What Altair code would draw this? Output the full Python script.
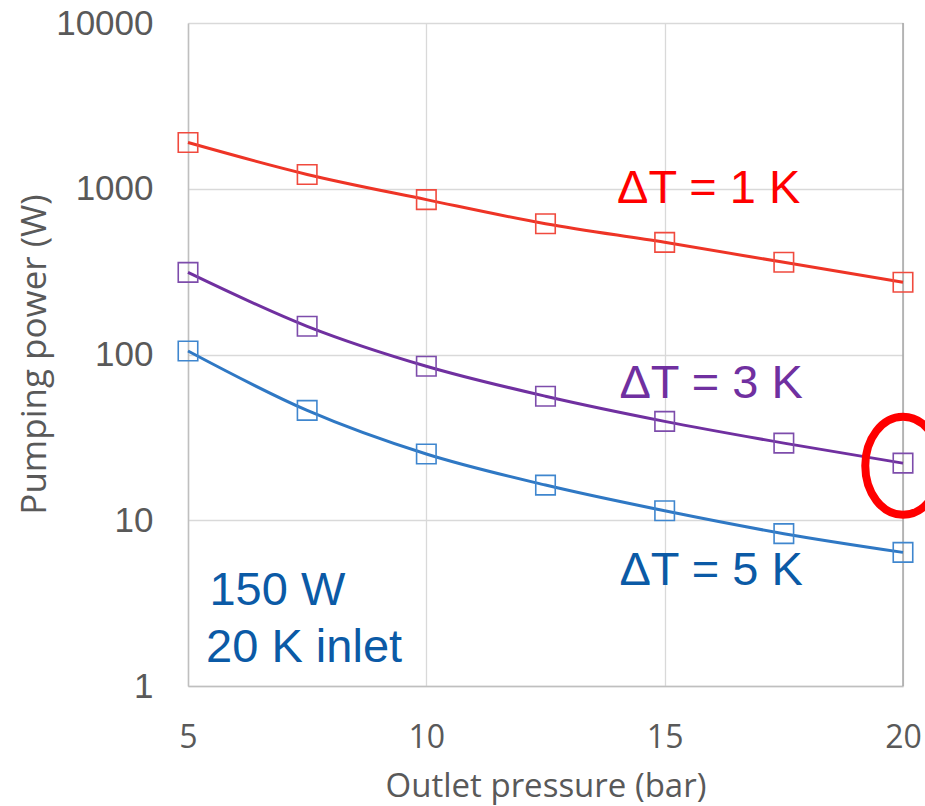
import altair as alt
import pandas as pd

# ---- data ----
pressure = [5, 7.5, 10, 12.5, 15, 17.5, 20]
power_dT1 = [1900, 1220, 860, 615, 475, 360, 273]
power_dT3 = [313, 148, 85, 56, 39.5, 29.2, 22.1]
power_dT5 = [105, 46, 25.1, 16.3, 11.4, 8.3, 6.4]
series_names = ["ΔT = 1 K", "ΔT = 3 K", "ΔT = 5 K"]

x_ticks = [5, 10, 15, 20]
y_ticks = [1, 10, 100, 1000, 10000]

# annotation texts and their anchor positions (data units)
label_text = ["ΔT = 1 K", "ΔT = 3 K", "ΔT = 5 K", "150 W", "20 K inlet"]
label_x = [14.0, 14.05, 14.05, 5.45, 5.38]
label_y = [820, 54.7, 4.07, 3.08, 1.40]
label_group = ["r", "p", "b", "b", "b"]

circle_x = [20]
circle_y = [21.3]

rows = []
for name, vals in zip(series_names, [power_dT1, power_dT3, power_dT5]):
    for p, v in zip(pressure, vals):
        rows.append({"pressure": p, "power": v, "series": name})
df = pd.DataFrame(rows)

ann = pd.DataFrame({"text": label_text, "x": label_x, "y": label_y, "g": label_group})
circ = pd.DataFrame({"x": circle_x, "y": circle_y})
edge = pd.DataFrame({"x": [20]})

xscale = alt.Scale(domain=[5, 20], nice=False, zero=False)
yscale = alt.Scale(type="log", domain=[1, 10000], nice=False)

line_colors = alt.Scale(domain=series_names, range=["#EE3426", "#7030A0", "#2F78C4"])
point_colors = alt.Scale(domain=series_names, range=["#F04A3E", "#7D4CAB", "#3F86CE"])

xaxis = alt.Axis(
    values=x_ticks, title="Outlet pressure (bar)", grid=True, gridColor="#D9D9D9",
    gridWidth=1.3, domainColor="#BFBFBF", domainWidth=1.5, ticks=False, tickSize=0,
    labelFont="Open Sans", labelFontSize=32, labelColor="#595959", labelPadding=61,
    labelBaseline="alphabetic", titleFont="Open Sans", titleFontSize=33,
    titleFontWeight="normal", titleColor="#595959", titleBaseline="alphabetic",
    titleY=110, labelFlush=False,
)
yaxis = alt.Axis(
    values=y_ticks, format="d", title="Pumping power (W)", grid=True,
    gridColor="#D9D9D9", gridWidth=1.3, domainColor="#BFBFBF", domainWidth=1.5,
    ticks=False, tickSize=0, labelFont="Liberation Sans", labelFontSize=35,
    labelColor="#595959", labelPadding=35, labelBaseline="middle",
    titleFont="Open Sans", titleFontSize=35, titleFontWeight="normal",
    titleColor="#595959", titleX=-143, titleY=331, titleBaseline="alphabetic",
    labelFlush=False,
)

base = alt.Chart(df)

lines = base.mark_line(strokeWidth=3, interpolate="monotone").encode(
    x=alt.X("pressure:Q", scale=xscale, axis=xaxis),
    y=alt.Y("power:Q", scale=yscale, axis=yaxis),
    color=alt.Color("series:N", scale=line_colors, legend=None),
    detail="series:N",
)

points = base.mark_point(shape="square", size=380, filled=False, strokeWidth=1.6, opacity=1).encode(
    x=alt.X("pressure:Q", scale=xscale),
    y=alt.Y("power:Q", scale=yscale),
    color=alt.Color("series:N", scale=point_colors, legend=None),
)

right_edge = alt.Chart(edge).mark_rule(color="#A6A6A6", strokeWidth=1.5).encode(
    x=alt.X("x:Q", scale=xscale)
)

texts = alt.Chart(ann).mark_text(
    font="Liberation Sans", fontSize=47, align="left", baseline="alphabetic"
).encode(
    x=alt.X("x:Q", scale=xscale),
    y=alt.Y("y:Q", scale=yscale),
    text="text:N",
    color=alt.Color("g:N", scale=alt.Scale(domain=["r", "p", "b"], range=["#FF0000", "#7030A0", "#0B5AA6"]), legend=None),
)

ellipse_path = "M -0.77 0 A 0.77 1 0 1 0 0.77 0 A 0.77 1 0 1 0 -0.77 0 Z"
ellipse = alt.Chart(circ).mark_point(
    shape=ellipse_path, size=9604, filled=False, strokeWidth=8, color="#FF0000", opacity=1
).encode(
    x=alt.X("x:Q", scale=xscale),
    y=alt.Y("y:Q", scale=yscale),
)

chart = alt.layer(right_edge, lines, points, texts, ellipse).resolve_scale(
    color="independent"
).properties(
    width=715, height=663,
    autosize=alt.AutoSizeParams(type="none"),
    padding={"left": 188, "top": 23, "right": 22, "bottom": 120},
    background="white",
).configure_view(stroke=None)

chart.save("out.html", embed_options={"renderer": "svg", "actions": False})
